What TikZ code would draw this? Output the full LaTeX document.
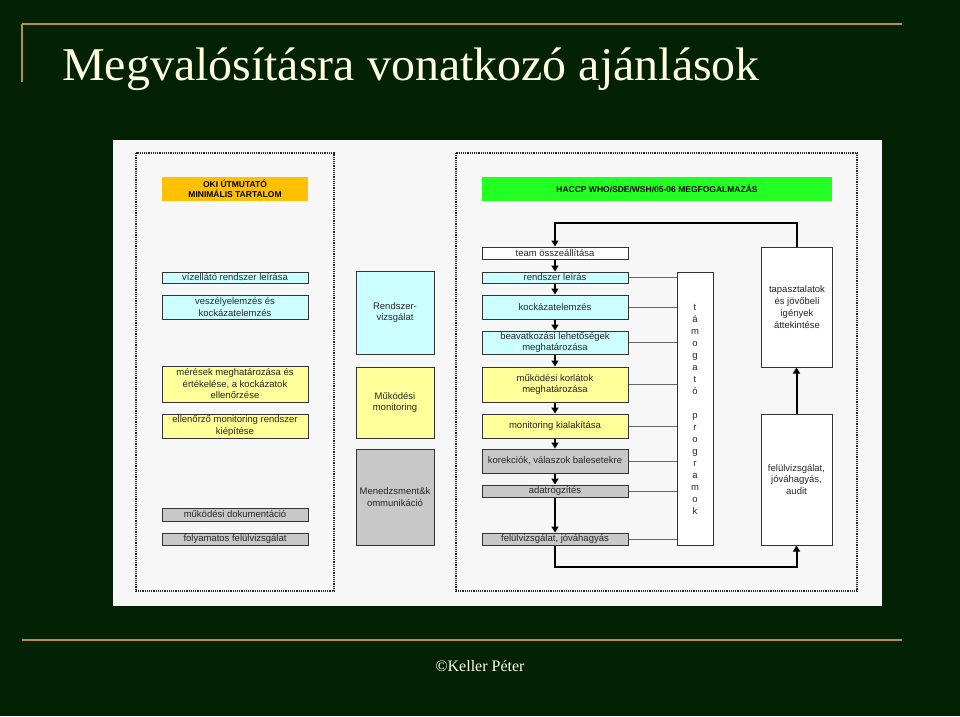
\documentclass[tikz,border=0pt]{standalone}
\usepackage{fontspec}
\setmainfont{Liberation Sans}
\newfontfamily\titlefont{Liberation Serif}
\usetikzlibrary{arrows.meta}
\definecolor{bgdark}{HTML}{032203}
\definecolor{gold}{HTML}{B8923A}
\definecolor{cream}{HTML}{FFFFE0}
\definecolor{panel}{HTML}{F7F7F7}
\definecolor{cyanbox}{HTML}{CCFFFF}
\definecolor{yelbox}{HTML}{FFFF99}
\definecolor{graybox}{HTML}{C8C8C8}
\definecolor{orangebox}{HTML}{FFC000}
\definecolor{greenbox}{HTML}{22FF22}
\tikzset{
  bx/.style={draw=black!80,line width=1pt,inner sep=0pt,align=center,font=\fontsize{9.5}{11.5}\selectfont,text=black!85},
  hdr/.style={inner sep=0pt,align=center,font=\bfseries\fontsize{8.5}{10.5}\selectfont},
  dotbox/.style={draw=black!85,line width=1.8pt,dash pattern=on 1.2pt off 1pt},
  flow/.style={-{Triangle[length=6pt,width=7pt]},line width=2pt},
  thin/.style={draw=black!60,line width=0.6pt},
}
\newcommand{\bxat}[7]{\node[bx,fill=#6,minimum width={(#3)-(#2)},minimum height={(#5)-(#4)}] (#1) at ({((#2)+(#3))/2},{((#4)+(#5))/2}) {#7};}
\begin{document}
\begin{tikzpicture}[x=1pt,y=-1pt]
\fill[bgdark] (0,0) rectangle (960,716);
\useasboundingbox (0,0) rectangle (960,716);
\draw[gold,line width=1.2pt] (22,24) -- (902,24);
\draw[gold,line width=1.2pt] (22,24) -- (22,82);
\node[anchor=base west,text=cream,font=\titlefont\fontsize{47}{52}\selectfont,inner sep=0pt,xscale=1.02] (title) at (62,80) {Megvalósításra vonatkozó ajánlások};
\fill[panel] (113,140) rectangle (882,606);
\draw[gold,line width=1.2pt] (22,640) -- (902,640);
\node[text=cream,font=\titlefont\fontsize{16}{18}\selectfont] (copy) at (480,666) {©Keller Péter};
\draw[dotbox] (136,153) rectangle (334,591);
\draw[dotbox] (456,153) rectangle (857,591);
\node[hdr,fill=orangebox,minimum width=146pt,minimum height=24pt] (oki) at (235,189) {OKI ÚTMUTATÓ\\MINIMÁLIS TARTALOM};
\node[hdr,fill=greenbox,minimum width=350pt,minimum height=24pt] (haccp) at (657,189) {HACCP WHO/SDE/WSH/05-06 MEGFOGALMAZÁS};
% left column
\bxat{l1}{162}{308}{272}{283}{cyanbox}{vízellátó rendszer leírása}
\bxat{l2}{162}{308}{295}{319}{cyanbox}{veszélyelemzés és\\kockázatelemzés}
\bxat{l3}{162}{308}{366}{402}{yelbox}{mérések meghatározása és\\értékelése, a kockázatok\\ellenőrzése}
\bxat{l4}{162}{308}{414}{438}{yelbox}{ellenőrző monitoring rendszer\\kiépítése}
\bxat{l5}{162}{308}{508}{521}{graybox}{működési dokumentáció}
\bxat{l6}{162}{308}{533}{545}{graybox}{folyamatos felülvizsgálat}
% middle column
\bxat{m1}{356}{434}{271}{354}{cyanbox}{Rendszer-\\vizsgálat}
\bxat{m2}{356}{434}{367}{438}{yelbox}{Működési\\monitoring}
\bxat{m3}{356}{434}{449}{545}{graybox}{Menedzsment\&k\\ommunikáció}
% flow
\bxat{f0}{482}{628}{247}{259}{white}{team összeállítása}
\bxat{f1}{482}{628}{272}{283}{cyanbox}{rendszer leírás}
\bxat{f2}{482}{628}{295}{319}{cyanbox}{kockázatelemzés}
\bxat{f3}{482}{628}{331}{354}{cyanbox}{beavatkozási lehetőségek\\meghatározása}
\bxat{f4}{482}{628}{367}{402}{yelbox}{működési korlátok\\meghatározása}
\bxat{f5}{482}{628}{414}{438}{yelbox}{monitoring kialakítása}
\bxat{f6}{482}{628}{449}{473}{graybox}{korekciók, válaszok balesetekre}
\bxat{f7}{482}{628}{485}{497}{graybox}{adatrögzítés}
\bxat{f8}{482}{628}{533}{545}{graybox}{felülvizsgálat, jóváhagyás}
\bxat{tp}{677}{713}{272}{545}{white}{}
\node[align=center,font=\fontsize{9.5}{12}\selectfont,text=black!85] (tptext) at (695,409) {t\\á\\m\\o\\g\\a\\t\\ó\\[12pt]p\\r\\o\\g\\r\\a\\m\\o\\k};
\bxat{ta}{761}{832}{247}{367}{white}{}
\node[align=center,font=\fontsize{9.5}{12}\selectfont,text=black!85,anchor=north] (tatext) at (797,282) {tapasztalatok\\és jövőbeli\\igények\\áttekintése};
\bxat{au}{761}{832}{414}{545}{white}{felülvizsgálat,\\jóváhagyás,\\audit}
% flow arrows
\foreach \a/\b in {f0/f1,f1/f2,f2/f3,f3/f4,f4/f5,f5/f6,f6/f7,f7/f8}
  \draw[flow] (\a.south) -- (\b.north);
\foreach \a in {f1,f2,f3,f4,f5,f6,f7,f8}
  \draw[thin] (\a.east) -- (\a.east -| tp.west);
\draw[flow] (ta.north) -- ++(0,-24) -| (f0.north);
\draw[flow] (au.north) -- (ta.south);
\coordinate (bl) at (555,567);
\draw[flow] (f8.south) -- (bl) -| (au.south);
\end{tikzpicture}
\end{document}
